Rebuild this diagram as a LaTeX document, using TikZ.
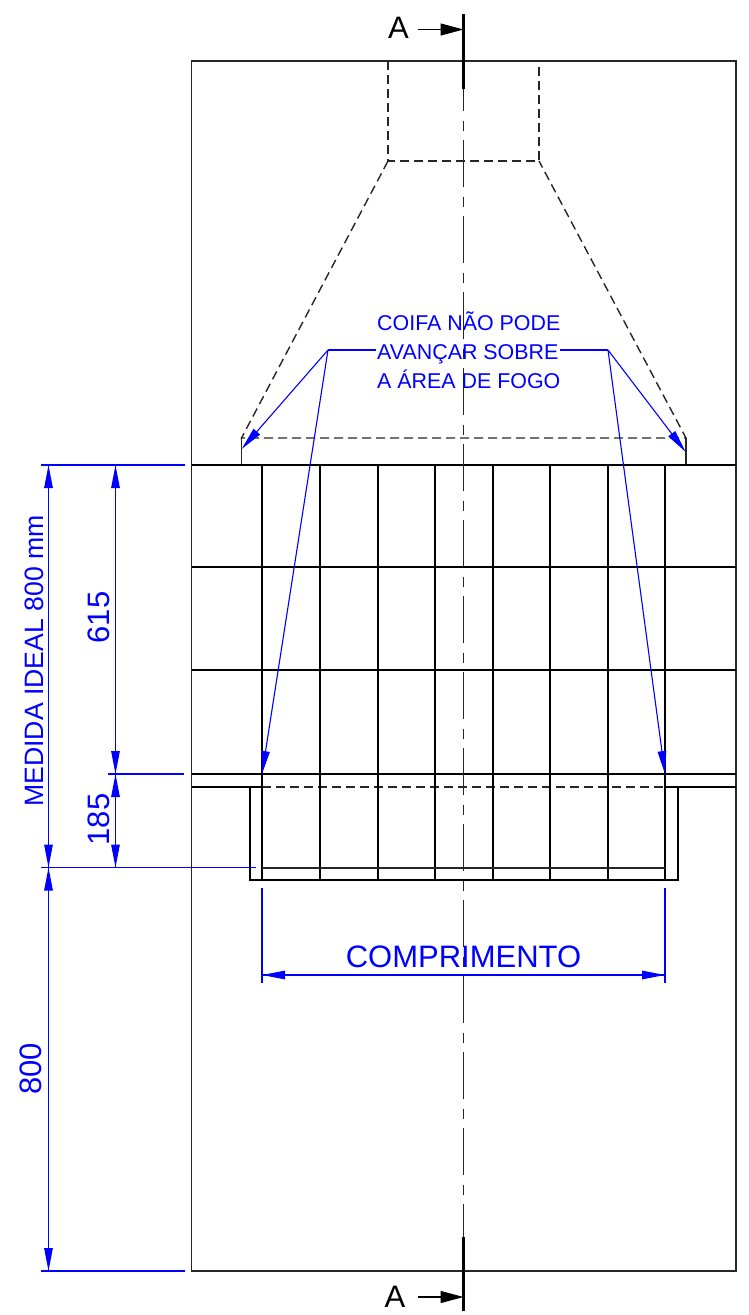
\documentclass[tikz,border=0pt]{standalone}
\usepackage{fontspec}
\setmainfont{Liberation Sans}
\usetikzlibrary{arrows.meta}
\definecolor{dimblue}{RGB}{0,0,255}
\tikzset{
  obj/.style={black,line width=2pt},
  thinobj/.style={black!85,line width=1.4pt},
  hid/.style={black!85,line width=1.4pt,dash pattern=on 9pt off 5pt},
  axis/.style={black!85,line width=1.2pt,dash pattern=on 47pt off 9.5pt on 10pt off 9.5pt,dash phase=25pt},
  cut/.style={black,line width=2.8pt},
  dimline/.style={dimblue,line width=1.1pt},
  bluetip/.style={-{Triangle[length=23pt,width=8.5pt,fill=dimblue]}},
  blacktip/.style={black,line width=1.1pt,-{Triangle[length=23pt,width=12pt,fill=black]}},
  dimtext/.style={text=dimblue,inner sep=0pt,font=\fontsize{31}{31}\selectfont},
  notetext/.style={text=dimblue,inner sep=0pt,anchor=base west,font=\fontsize{21.4}{21.4}\selectfont},
  secttext/.style={text=black,inner sep=0pt,font=\fontsize{31}{31}\selectfont}
}
\begin{document}
\begin{tikzpicture}[x=1pt,y=-1pt]
\useasboundingbox (0,0) rectangle (748,1315);
% outer frame
\draw[thinobj] (191.5,61) rectangle (736,1271);
% hood
\coordinate (h1) at (388,61); \coordinate (h2) at (388,161);
\coordinate (h3) at (539,161); \coordinate (h4) at (539,61);
\coordinate (h5) at (241.5,438); \coordinate (h6) at (686,438);
\draw[hid] (h1)--(h2)--(h3)--(h4);
\draw[hid] (h2)--(h5)--(h6)--(h3);
\draw[thinobj] (h5)--(241.5,465);
\draw[thinobj] (h6)--(686,465);
% firebox horizontal bars
\foreach \yy/\lw in {465/2.4,567/2,670/2,774/2.2}{
  \draw[black,line width=\lw pt] (191.5,\yy)--(736,\yy);
}
\draw[obj] (191.5,787)--(262,787);
\draw[obj] (665,787)--(736,787);
\draw[hid] (262,787)--(665,787);
% grid verticals
\foreach \xx in {262,320,377.5,435,492.5,550,607.5,665}{
  \draw[black,line width=2pt] (\xx,465)--(\xx,880);
}
% lower box
\draw[obj] (249.5,787)--(249.5,880)--(678,880)--(678,787);
\draw[thinobj,line width=1.1pt] (262,868)--(665,868);
% centre line and section marks
\draw[axis] (463.5,89)--(463.5,1237);
\draw[cut] (463.5,14)--(463.5,89);
\draw[cut] (463.5,1237)--(463.5,1311);
\coordinate (ta) at (418,29.5); \coordinate (tb) at (463.5,29.5);
\coordinate (ba) at (418,1297); \coordinate (bb) at (463.5,1297);
\draw[blacktip] (ta)--(tb);
\draw[blacktip] (ba)--(bb);
\node[secttext] (secA1) at (398.5,27.5) {A};
\node[secttext] (secA2) at (395,1296.5) {A};
% dimension extension lines
\draw[dimline] (41,465)--(185,465);
\draw[dimline] (108,774)--(184,774);
\draw[dimline] (41,867.5)--(256,867.5);
\draw[dimline] (41,1271)--(185,1271);
\draw[dimline] (262,888)--(262,983);
\draw[dimline] (665,888)--(665,983);
% dimension lines
\coordinate (d1a) at (48.5,465); \coordinate (d1b) at (48.5,867.5); \coordinate (d1c) at (48.5,1271);
\coordinate (d2a) at (115.5,465); \coordinate (d2b) at (115.5,774); \coordinate (d2c) at (115.5,867.5);
\coordinate (d3a) at (262,975); \coordinate (d3b) at (665,975);
\draw[dimline,bluetip] (d1b)--(d1a);
\draw[dimline,bluetip] (d1a)--(d1b);
\draw[dimline,bluetip] (d1c)--(d1b);
\draw[dimline,bluetip] (d1b)--(d1c);
\draw[dimline,bluetip] (d2b)--(d2a);
\draw[dimline,bluetip] (d2a)--(d2b);
\draw[dimline,bluetip] (d2c)--(d2b);
\draw[dimline,bluetip] (d2b)--(d2c);
\draw[dimline,bluetip] (d3a)--(d3b);
\draw[dimline,bluetip] (d3b)--(d3a);
% dimension texts
\node[dimtext,rotate=90] (t615) at (99,617.5) {615};
\node[dimtext,rotate=90] (t185) at (99,819.5) {185};
\node[dimtext,rotate=90] (t800) at (31,1069) {800};
\node[dimtext,rotate=90,font=\fontsize{26.6}{26.6}\selectfont] (tmed) at (34.5,661) {MEDIDA IDEAL 800 mm};
\node[dimtext] (tcomp) at (463.5,957) {COMPRIMENTO};
% note
\node[notetext] (n1) at (377,330) {COIFA NÃO PODE};
\node[notetext] (n2) at (377,359) {AVANÇAR SOBRE};
\node[notetext] (n3) at (377,388) {A ÁREA DE FOGO};
% leaders
\coordinate (la) at (328,350); \coordinate (lb) at (608,350);
\coordinate (lc) at (376,350); \coordinate (ld) at (560,350);
\draw[dimline,line width=1.3pt] (la)--(lc);
\draw[dimline,line width=1.3pt] (ld)--(lb);
\coordinate (t1) at (241.7,449); \coordinate (t2) at (262,774);
\coordinate (t3) at (685.7,452); \coordinate (t4) at (665,774);
\draw[dimline,bluetip] (la)--(t1);
\draw[dimline,bluetip] (la)--(t2);
\draw[dimline,bluetip] (lb)--(t3);
\draw[dimline,bluetip] (lb)--(t4);
\end{tikzpicture}
\end{document}
